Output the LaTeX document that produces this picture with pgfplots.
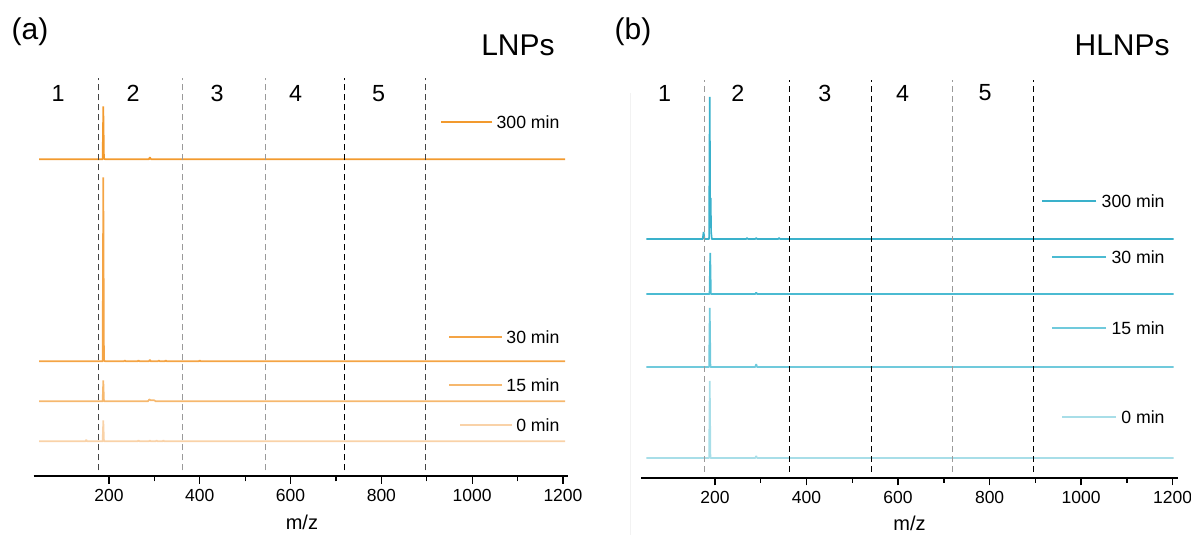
\documentclass[border=0pt]{standalone}
\usepackage{fontspec}
\setmainfont{Liberation Sans}
\usepackage{pgfplots}
\pgfplotsset{compat=1.18}

\definecolor{oA}{HTML}{F29A2E}
\definecolor{oB}{HTML}{F4A445}
\definecolor{oC}{HTML}{F6B86E}
\definecolor{oD}{HTML}{F9D2A8}
\definecolor{tA}{HTML}{3AB1CB}
\definecolor{tB}{HTML}{4BBBD2}
\definecolor{tC}{HTML}{70CADC}
\definecolor{tD}{HTML}{A8DEE8}
\definecolor{dk}{HTML}{444444}
\definecolor{lg}{HTML}{9A9A9A}

\pgfplotsset{
  ms/.style={anchor=south west, axis x line*=bottom, hide y axis,
    x axis line style={line width=1pt,-}, xmax=1211, ymin=0, ymax=418, y=0.6pt,
    enlargelimits=false, clip=false, xtick={200,400,...,1200}, minor x tick num=1,
    tick align=outside, major tick length=4.5pt, minor tick length=3pt,
    every tick/.style={black, line width=0.8pt},
    tick label style={font=\fontsize{10.5}{12}\selectfont},
    /pgf/number format/assume math mode=true,
    /pgf/number format/set thousands separator={}}
}
\tikzset{
  sp/.style={line width=1pt, line join=bevel},
  dsh/.style={line width=0.65pt, dash pattern=on 3.6pt off 2.4pt},
  lab/.style={font=\fontsize{10.6}{12}\selectfont, inner sep=0pt, anchor=east},
  reg/.style={font=\fontsize{14}{16}\selectfont}
}

\begin{document}
\begin{tikzpicture}
\useasboundingbox (0,0) rectangle (714.6pt,321pt);

% (a) LNPs
\begin{axis}[ms, at={(20.16pt,35.2pt)}, xmin=34, x=0.2724pt]
\addplot[sp, oD] coordinates {(46,35) (148,35) (150,36.5) (152,35) (186,35) (187.5,56) (189,35) (263,35) (265,36) (267,35) (288,35) (290,36) (292,35) (303,35) (305,36) (307,35) (318,35) (320,36) (322,35) (1205,35)};
\addplot[sp, oC] coordinates {(46,75) (186,75) (187.5,96) (189,75) (286,75) (289,77) (292,76) (300,76) (303,75) (1205,75)};
\addplot[sp, oB] coordinates {(46,115) (186,115) (187.5,299) (189,116) (191,115) (233,115) (235,116) (237,115) (263,115) (265,116) (267,115) (288,115) (290,116.5) (292,115) (308,115) (310,116) (312,115) (323,115) (325,116) (327,115) (398,115) (400,116) (402,115) (1205,115)};
\addplot[sp, oA] coordinates {(46,317) (186,317) (187.5,370) (189,318) (191,317) (288,317) (290,319) (293,317) (1205,317)};
\draw[dsh, dk] (axis cs:176,6) -- (axis cs:176,398);
\draw[dsh, lg] (axis cs:362,6) -- (axis cs:362,398);
\draw[dsh, lg] (axis cs:544,6) -- (axis cs:544,398);
\draw[dsh, black] (axis cs:719,6) -- (axis cs:719,398);
\draw[dsh, dk] (axis cs:897,6) -- (axis cs:897,398);
\node[reg] at (axis cs:88,383) {1};
\node[reg] at (axis cs:253,383) {2};
\node[reg] at (axis cs:438,383) {3};
\node[reg] at (axis cs:611,383) {4};
\node[reg] at (axis cs:794,383) {5};
\node[lab] (a300) at (axis cs:1193,354) {300 min};
\draw[sp, oA] ([xshift=-2.4pt]a300.west) -- ++(-21.5pt,0);
\node[lab] (a30) at (axis cs:1193,139) {30 min};
\draw[sp, oB] ([xshift=-2.7pt]a30.west) -- ++(-22pt,0);
\node[lab] (a15) at (axis cs:1193,91) {15 min};
\draw[sp, oC] ([xshift=-2.7pt]a15.west) -- ++(-22pt,0);
\node[lab] (a0) at (axis cs:1193,51) {0 min};
\draw[sp, oD] ([xshift=-2.4pt]a0.west) -- ++(-22pt,0);
\node[font=\fontsize{12}{14}\selectfont] at (axis cs:625,-46) {m/z};
\end{axis}

% (b) HLNPs
\draw[gray!10, line width=0.6pt] (378pt,0pt) -- (378pt,265pt);
\begin{axis}[ms, at={(384.8pt,34.2pt)}, xmin=39, x=0.2746pt]
\addplot[sp, tD] coordinates {(50,20) (187,20) (188.5,97) (190,20) (288,20) (290,22) (292,20) (1202,20)};
\addplot[sp, tC] coordinates {(50,111) (187,111) (188.5,170) (190,111) (288,111) (290,114) (292,111) (1202,111)};
\addplot[sp, tB] coordinates {(50,184) (188,184) (189.5,225) (191,184) (288,184) (290,185.5) (292,184) (1202,184)};
\addplot[sp, tA] coordinates {(50,239) (173,239) (175,246) (177,239) (187,239) (188.5,381) (189.5,250) (190.5,280) (191.5,246) (193,239) (268,239) (270,240) (272,239) (288,239) (290,240) (292,239) (338,239) (340,240) (342,239) (1202,239)};
\draw[dsh, lg] (axis cs:178,6) -- (axis cs:178,398);
\draw[dsh, black] (axis cs:363,6) -- (axis cs:363,398);
\draw[dsh, black] (axis cs:542,6) -- (axis cs:542,398);
\draw[dsh, lg] (axis cs:719,6) -- (axis cs:719,398);
\draw[dsh, black] (axis cs:896,6) -- (axis cs:896,398);
\node[reg] at (axis cs:90,385) {1};
\node[reg] at (axis cs:250,385) {2};
\node[reg] at (axis cs:440,385) {3};
\node[reg] at (axis cs:610,385) {4};
\node[reg] at (axis cs:790,385) {5};
\node[lab] (b300) at (axis cs:1183,277) {300 min};
\draw[sp, tA] ([xshift=-3pt]b300.west) -- ++(-22pt,0);
\node[lab] (b30) at (axis cs:1183,221) {30 min};
\draw[sp, tB] ([xshift=-3pt]b30.west) -- ++(-22pt,0);
\node[lab] (b15) at (axis cs:1183,150) {15 min};
\draw[sp, tC] ([xshift=-3pt]b15.west) -- ++(-22pt,0);
\node[lab] (b0) at (axis cs:1183,61) {0 min};
\draw[sp, tD] ([xshift=-3pt]b0.west) -- ++(-22pt,0);
\node[font=\fontsize{12}{14}\selectfont] at (axis cs:625,-45) {m/z};
\end{axis}

\node[font=\fontsize{18}{20}\selectfont] at (18pt,301.8pt) {(a)};
\node[font=\fontsize{18}{20}\selectfont, anchor=east, inner sep=0pt] at (333pt,294pt) {LNPs};
\node[font=\fontsize{18}{20}\selectfont] at (379.8pt,301.8pt) {(b)};
\node[font=\fontsize{18}{20}\selectfont, anchor=east, inner sep=0pt] at (702pt,294pt) {HLNPs};
\end{tikzpicture}
\end{document}
